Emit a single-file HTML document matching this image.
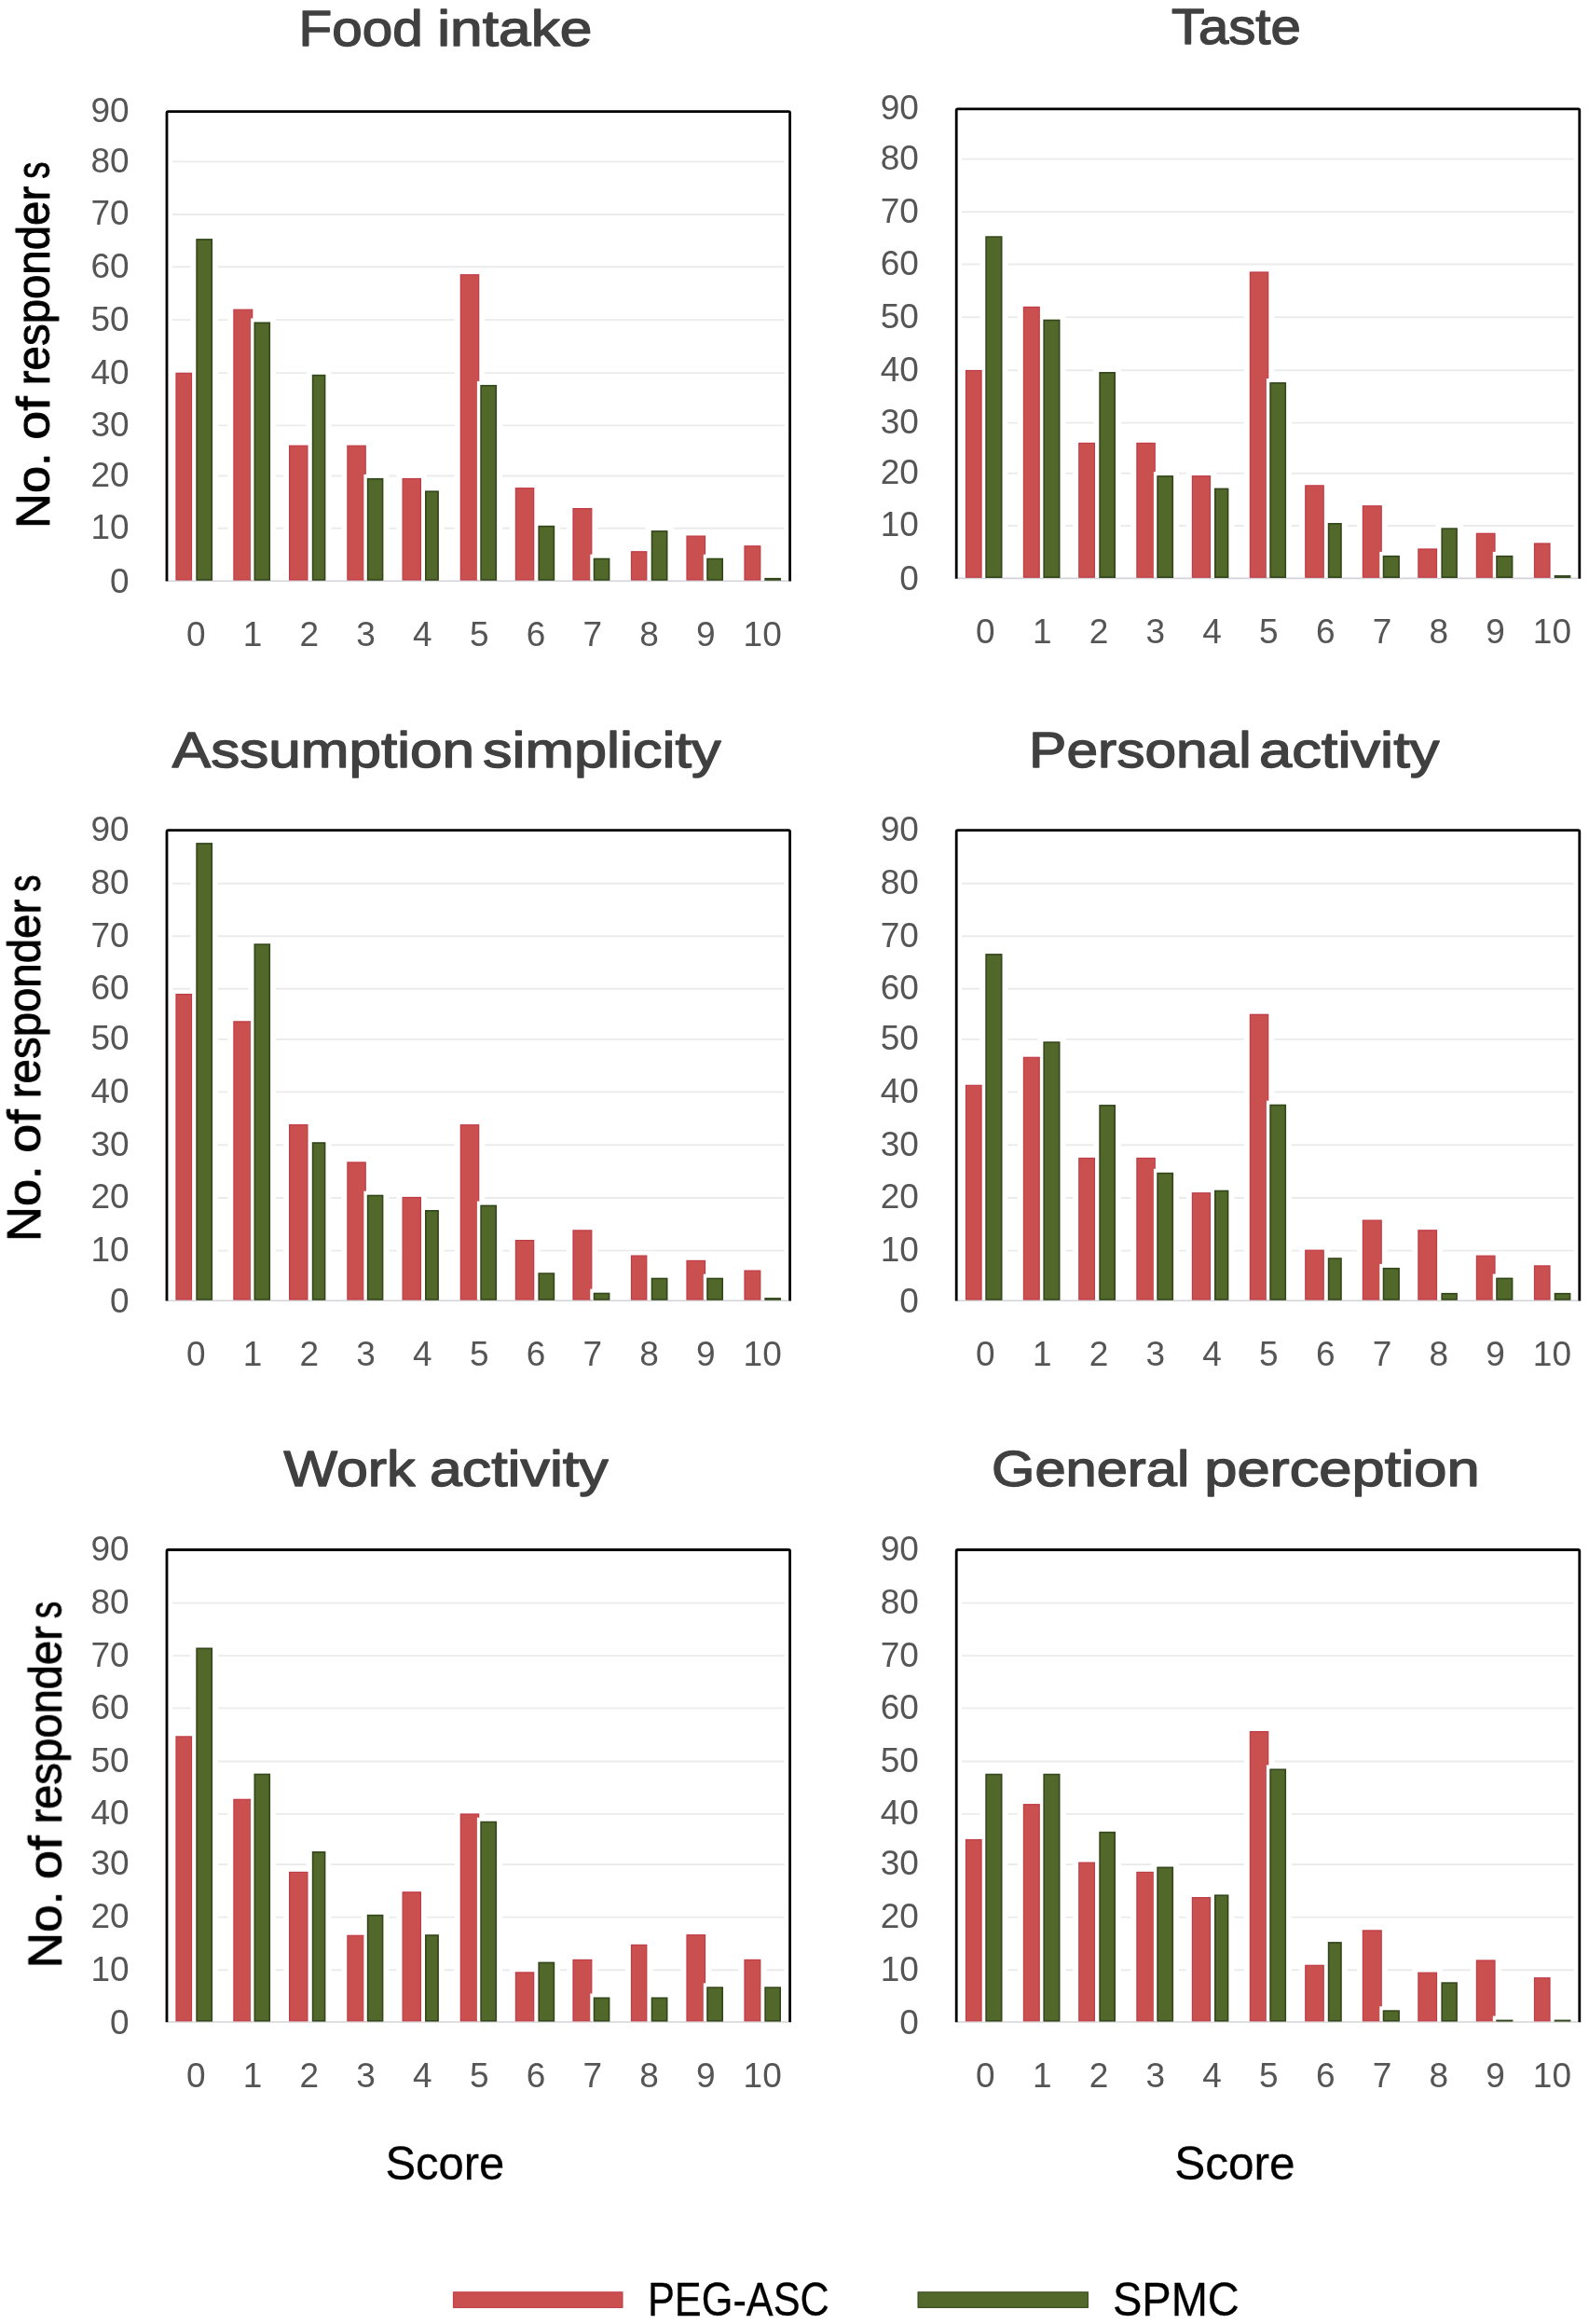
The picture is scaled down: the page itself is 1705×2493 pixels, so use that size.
<!DOCTYPE html>
<html lang="en"><head><meta charset="utf-8"><title>Score distributions</title>
<style>
html,body{margin:0;padding:0;background:#fff}
svg{display:block}
text{font-family:"Liberation Sans",sans-serif}
.tk{font-size:37px;fill:#555555}
.tt{font-size:54px;fill:#404040;stroke:#404040;stroke-width:1.4px;stroke-linejoin:round}
.yl{font-size:50px;fill:#000;stroke:#000;stroke-width:0.9px;stroke-linejoin:round}
.sc{font-size:50px;fill:#000;stroke:#000;stroke-width:0.3px}
</style></head><body>
<svg width="1705" height="2493" viewBox="0 0 1705 2493">
<defs><filter id="soft" filterUnits="userSpaceOnUse" x="0" y="0" width="1705" height="2493"><feGaussianBlur stdDeviation="0.6"/></filter></defs>
<rect width="1705" height="2493" fill="#fff"/>
<g filter="url(#soft)">
<g>
<line x1="185" x2="841.5" y1="173.4" y2="173.4" stroke="#ebebeb" stroke-width="1.9"/>
<line x1="185" x2="841.5" y1="230" y2="230" stroke="#ebebeb" stroke-width="1.9"/>
<line x1="185" x2="841.5" y1="286.3" y2="286.3" stroke="#ebebeb" stroke-width="1.9"/>
<line x1="185" x2="841.5" y1="343.1" y2="343.1" stroke="#ebebeb" stroke-width="1.9"/>
<line x1="185" x2="841.5" y1="400.1" y2="400.1" stroke="#ebebeb" stroke-width="1.9"/>
<line x1="185" x2="841.5" y1="456.4" y2="456.4" stroke="#ebebeb" stroke-width="1.9"/>
<line x1="185" x2="841.5" y1="510.5" y2="510.5" stroke="#ebebeb" stroke-width="1.9"/>
<line x1="185" x2="841.5" y1="566.8" y2="566.8" stroke="#ebebeb" stroke-width="1.9"/>
<line x1="180" x2="846" y1="623.2" y2="623.2" stroke="#d4d4d8" stroke-width="1.6"/>
<rect x="182.4" y="395.7" width="29.7" height="225.3" fill="#fff"/>
<rect x="204.3" y="252.1" width="29.8" height="368.9" fill="#fff"/>
<rect x="244.3" y="327.6" width="33" height="293.4" fill="#fff"/>
<rect x="266.5" y="341.5" width="29.6" height="279.5" fill="#fff"/>
<rect x="304" y="473.6" width="32.5" height="147.4" fill="#fff"/>
<rect x="328.8" y="397.8" width="26.6" height="223.2" fill="#fff"/>
<rect x="366.3" y="473.6" width="32.5" height="147.4" fill="#fff"/>
<rect x="387.8" y="508.9" width="29.6" height="112.1" fill="#fff"/>
<rect x="425.5" y="508.9" width="32.5" height="112.1" fill="#fff"/>
<rect x="450" y="522.4" width="26.9" height="98.6" fill="#fff"/>
<rect x="487.7" y="290.2" width="32.6" height="330.8" fill="#fff"/>
<rect x="509.3" y="408.9" width="29.8" height="212.1" fill="#fff"/>
<rect x="546.8" y="519.1" width="32.5" height="101.9" fill="#fff"/>
<rect x="571.4" y="559.8" width="29.8" height="61.2" fill="#fff"/>
<rect x="608.4" y="541" width="33" height="80" fill="#fff"/>
<rect x="630.7" y="594.7" width="29.7" height="26.3" fill="#fff"/>
<rect x="670.9" y="587.2" width="29.5" height="33.8" fill="#fff"/>
<rect x="692.7" y="565.1" width="29.8" height="55.9" fill="#fff"/>
<rect x="730.4" y="570.5" width="32.7" height="50.5" fill="#fff"/>
<rect x="752.2" y="594.7" width="29.8" height="26.3" fill="#fff"/>
<rect x="792.4" y="581.2" width="30" height="39.8" fill="#fff"/>
<rect x="189" y="400.3" width="16.5" height="221.7" fill="#ca5050" stroke="#bf3a44" stroke-width="1.2"/>
<rect x="206.9" y="252.1" width="3.6" height="370.4" fill="#fff"/>
<rect x="211.1" y="256.9" width="16.2" height="365.1" fill="#51682a" stroke="#33471a" stroke-width="1.6"/>
<rect x="250.9" y="332.2" width="19.8" height="289.8" fill="#ca5050" stroke="#bf3a44" stroke-width="1.2"/>
<rect x="269.1" y="341.5" width="3.6" height="281" fill="#fff"/>
<rect x="273.3" y="346.3" width="16" height="275.7" fill="#51682a" stroke="#33471a" stroke-width="1.6"/>
<rect x="310.6" y="478.2" width="19.3" height="143.8" fill="#ca5050" stroke="#bf3a44" stroke-width="1.2"/>
<rect x="331.4" y="397.8" width="3.6" height="224.7" fill="#fff"/>
<rect x="335.6" y="402.6" width="13" height="219.4" fill="#51682a" stroke="#33471a" stroke-width="1.6"/>
<rect x="372.9" y="478.2" width="19.3" height="143.8" fill="#ca5050" stroke="#bf3a44" stroke-width="1.2"/>
<rect x="390.4" y="508.9" width="3.6" height="113.6" fill="#fff"/>
<rect x="394.6" y="513.7" width="16" height="108.3" fill="#51682a" stroke="#33471a" stroke-width="1.6"/>
<rect x="432.1" y="513.5" width="19.3" height="108.5" fill="#ca5050" stroke="#bf3a44" stroke-width="1.2"/>
<rect x="452.6" y="522.4" width="3.6" height="100.1" fill="#fff"/>
<rect x="456.8" y="527.2" width="13.3" height="94.8" fill="#51682a" stroke="#33471a" stroke-width="1.6"/>
<rect x="494.3" y="294.8" width="19.4" height="327.2" fill="#ca5050" stroke="#bf3a44" stroke-width="1.2"/>
<rect x="511.9" y="408.9" width="3.6" height="213.6" fill="#fff"/>
<rect x="516.1" y="413.7" width="16.2" height="208.3" fill="#51682a" stroke="#33471a" stroke-width="1.6"/>
<rect x="553.4" y="523.7" width="19.3" height="98.3" fill="#ca5050" stroke="#bf3a44" stroke-width="1.2"/>
<rect x="574" y="559.8" width="3.6" height="62.7" fill="#fff"/>
<rect x="578.2" y="564.6" width="16.2" height="57.4" fill="#51682a" stroke="#33471a" stroke-width="1.6"/>
<rect x="615" y="545.6" width="19.8" height="76.4" fill="#ca5050" stroke="#bf3a44" stroke-width="1.2"/>
<rect x="633.3" y="594.7" width="3.6" height="27.8" fill="#fff"/>
<rect x="637.5" y="599.5" width="16.1" height="22.5" fill="#51682a" stroke="#33471a" stroke-width="1.6"/>
<rect x="677.5" y="591.8" width="16.3" height="30.2" fill="#ca5050" stroke="#bf3a44" stroke-width="1.2"/>
<rect x="695.3" y="565.1" width="3.6" height="57.4" fill="#fff"/>
<rect x="699.5" y="569.9" width="16.2" height="52.1" fill="#51682a" stroke="#33471a" stroke-width="1.6"/>
<rect x="737" y="575.1" width="19.5" height="46.9" fill="#ca5050" stroke="#bf3a44" stroke-width="1.2"/>
<rect x="754.8" y="594.7" width="3.6" height="27.8" fill="#fff"/>
<rect x="759" y="599.5" width="16.2" height="22.5" fill="#51682a" stroke="#33471a" stroke-width="1.6"/>
<rect x="799" y="585.8" width="16.8" height="36.2" fill="#ca5050" stroke="#bf3a44" stroke-width="1.2"/>
<rect x="816.9" y="615.9" width="3.6" height="6.6" fill="#fff"/>
<rect x="821.1" y="620.7" width="16.1" height="1.3" fill="#51682a" stroke="#33471a" stroke-width="1.6"/>
<path d="M179 623.5V121.1Q179 119.6 180.5 119.6H846.1Q847.6 119.6 847.6 121.1V623.5" fill="none" stroke="#000" stroke-width="2.8"/>
<text x="138.6" y="131" text-anchor="end" class="tk">90</text>
<text x="138.6" y="184.8" text-anchor="end" class="tk">80</text>
<text x="138.6" y="241.4" text-anchor="end" class="tk">70</text>
<text x="138.6" y="297.7" text-anchor="end" class="tk">60</text>
<text x="138.6" y="354.5" text-anchor="end" class="tk">50</text>
<text x="138.6" y="411.5" text-anchor="end" class="tk">40</text>
<text x="138.6" y="467.8" text-anchor="end" class="tk">30</text>
<text x="138.6" y="521.9" text-anchor="end" class="tk">20</text>
<text x="138.6" y="578.2" text-anchor="end" class="tk">10</text>
<text x="138.6" y="636" text-anchor="end" class="tk">0</text>
<text x="210.2" y="692.8" text-anchor="middle" class="tk">0</text>
<text x="271" y="692.8" text-anchor="middle" class="tk">1</text>
<text x="331.8" y="692.8" text-anchor="middle" class="tk">2</text>
<text x="392.6" y="692.8" text-anchor="middle" class="tk">3</text>
<text x="453.4" y="692.8" text-anchor="middle" class="tk">4</text>
<text x="514.2" y="692.8" text-anchor="middle" class="tk">5</text>
<text x="575" y="692.8" text-anchor="middle" class="tk">6</text>
<text x="635.8" y="692.8" text-anchor="middle" class="tk">7</text>
<text x="696.6" y="692.8" text-anchor="middle" class="tk">8</text>
<text x="757.4" y="692.8" text-anchor="middle" class="tk">9</text>
<text x="818.2" y="692.8" text-anchor="middle" class="tk">10</text>
</g>
<g>
<line x1="1032.2" x2="1688.7" y1="170.6" y2="170.6" stroke="#ebebeb" stroke-width="1.9"/>
<line x1="1032.2" x2="1688.7" y1="227.2" y2="227.2" stroke="#ebebeb" stroke-width="1.9"/>
<line x1="1032.2" x2="1688.7" y1="283.5" y2="283.5" stroke="#ebebeb" stroke-width="1.9"/>
<line x1="1032.2" x2="1688.7" y1="340.3" y2="340.3" stroke="#ebebeb" stroke-width="1.9"/>
<line x1="1032.2" x2="1688.7" y1="397.3" y2="397.3" stroke="#ebebeb" stroke-width="1.9"/>
<line x1="1032.2" x2="1688.7" y1="453.6" y2="453.6" stroke="#ebebeb" stroke-width="1.9"/>
<line x1="1032.2" x2="1688.7" y1="507.7" y2="507.7" stroke="#ebebeb" stroke-width="1.9"/>
<line x1="1032.2" x2="1688.7" y1="564" y2="564" stroke="#ebebeb" stroke-width="1.9"/>
<line x1="1027.2" x2="1693.2" y1="620.4" y2="620.4" stroke="#d4d4d8" stroke-width="1.6"/>
<rect x="1029.9" y="392.9" width="29.8" height="225.3" fill="#fff"/>
<rect x="1051.3" y="249.3" width="30.2" height="368.9" fill="#fff"/>
<rect x="1091.8" y="324.8" width="30" height="293.4" fill="#fff"/>
<rect x="1113.4" y="338.7" width="30.1" height="279.5" fill="#fff"/>
<rect x="1151.2" y="470.8" width="29.8" height="147.4" fill="#fff"/>
<rect x="1173.3" y="395" width="29.7" height="223.2" fill="#fff"/>
<rect x="1213.3" y="470.8" width="32.5" height="147.4" fill="#fff"/>
<rect x="1235.3" y="506.1" width="29.8" height="112.1" fill="#fff"/>
<rect x="1272.8" y="506.1" width="32.3" height="112.1" fill="#fff"/>
<rect x="1297" y="519.6" width="27.4" height="98.6" fill="#fff"/>
<rect x="1334.8" y="287.4" width="32.5" height="330.8" fill="#fff"/>
<rect x="1356.3" y="406.1" width="29.8" height="212.1" fill="#fff"/>
<rect x="1394.2" y="516.3" width="32.6" height="101.9" fill="#fff"/>
<rect x="1418.8" y="557" width="27" height="61.2" fill="#fff"/>
<rect x="1455.8" y="538.2" width="33" height="80" fill="#fff"/>
<rect x="1477.7" y="591.9" width="30.2" height="26.3" fill="#fff"/>
<rect x="1515.3" y="584.4" width="32.8" height="33.8" fill="#fff"/>
<rect x="1540.4" y="562.3" width="29.5" height="55.9" fill="#fff"/>
<rect x="1577.8" y="567.7" width="32.8" height="50.5" fill="#fff"/>
<rect x="1599.2" y="591.9" width="30.2" height="26.3" fill="#fff"/>
<rect x="1639.9" y="578.4" width="29.7" height="39.8" fill="#fff"/>
<rect x="1036.5" y="397.5" width="16.6" height="221.7" fill="#ca5050" stroke="#bf3a44" stroke-width="1.2"/>
<rect x="1053.9" y="249.3" width="3.6" height="370.4" fill="#fff"/>
<rect x="1058.1" y="254.1" width="16.6" height="365.1" fill="#51682a" stroke="#33471a" stroke-width="1.6"/>
<rect x="1098.4" y="329.4" width="16.8" height="289.8" fill="#ca5050" stroke="#bf3a44" stroke-width="1.2"/>
<rect x="1116" y="338.7" width="3.6" height="281" fill="#fff"/>
<rect x="1120.2" y="343.5" width="16.5" height="275.7" fill="#51682a" stroke="#33471a" stroke-width="1.6"/>
<rect x="1157.8" y="475.4" width="16.6" height="143.8" fill="#ca5050" stroke="#bf3a44" stroke-width="1.2"/>
<rect x="1175.9" y="395" width="3.6" height="224.7" fill="#fff"/>
<rect x="1180.1" y="399.8" width="16.1" height="219.4" fill="#51682a" stroke="#33471a" stroke-width="1.6"/>
<rect x="1219.9" y="475.4" width="19.3" height="143.8" fill="#ca5050" stroke="#bf3a44" stroke-width="1.2"/>
<rect x="1237.9" y="506.1" width="3.6" height="113.6" fill="#fff"/>
<rect x="1242.1" y="510.9" width="16.2" height="108.3" fill="#51682a" stroke="#33471a" stroke-width="1.6"/>
<rect x="1279.4" y="510.7" width="19.1" height="108.5" fill="#ca5050" stroke="#bf3a44" stroke-width="1.2"/>
<rect x="1299.6" y="519.6" width="3.6" height="100.1" fill="#fff"/>
<rect x="1303.8" y="524.4" width="13.8" height="94.8" fill="#51682a" stroke="#33471a" stroke-width="1.6"/>
<rect x="1341.4" y="292" width="19.3" height="327.2" fill="#ca5050" stroke="#bf3a44" stroke-width="1.2"/>
<rect x="1358.9" y="406.1" width="3.6" height="213.6" fill="#fff"/>
<rect x="1363.1" y="410.9" width="16.2" height="208.3" fill="#51682a" stroke="#33471a" stroke-width="1.6"/>
<rect x="1400.8" y="520.9" width="19.4" height="98.3" fill="#ca5050" stroke="#bf3a44" stroke-width="1.2"/>
<rect x="1421.4" y="557" width="3.6" height="62.7" fill="#fff"/>
<rect x="1425.6" y="561.8" width="13.4" height="57.4" fill="#51682a" stroke="#33471a" stroke-width="1.6"/>
<rect x="1462.4" y="542.8" width="19.8" height="76.4" fill="#ca5050" stroke="#bf3a44" stroke-width="1.2"/>
<rect x="1480.3" y="591.9" width="3.6" height="27.8" fill="#fff"/>
<rect x="1484.5" y="596.7" width="16.6" height="22.5" fill="#51682a" stroke="#33471a" stroke-width="1.6"/>
<rect x="1521.9" y="589" width="19.6" height="30.2" fill="#ca5050" stroke="#bf3a44" stroke-width="1.2"/>
<rect x="1543" y="562.3" width="3.6" height="57.4" fill="#fff"/>
<rect x="1547.2" y="567.1" width="15.9" height="52.1" fill="#51682a" stroke="#33471a" stroke-width="1.6"/>
<rect x="1584.4" y="572.3" width="19.6" height="46.9" fill="#ca5050" stroke="#bf3a44" stroke-width="1.2"/>
<rect x="1601.8" y="591.9" width="3.6" height="27.8" fill="#fff"/>
<rect x="1606" y="596.7" width="16.6" height="22.5" fill="#51682a" stroke="#33471a" stroke-width="1.6"/>
<rect x="1646.5" y="583" width="16.5" height="36.2" fill="#ca5050" stroke="#bf3a44" stroke-width="1.2"/>
<rect x="1664.3" y="613.1" width="3.6" height="6.6" fill="#fff"/>
<rect x="1668.5" y="617.9" width="16.1" height="1.3" fill="#51682a" stroke="#33471a" stroke-width="1.6"/>
<path d="M1026.2 620.7V118.3Q1026.2 116.8 1027.7 116.8H1693.3Q1694.8 116.8 1694.8 118.3V620.7" fill="none" stroke="#000" stroke-width="2.8"/>
<text x="985.8" y="128.2" text-anchor="end" class="tk">90</text>
<text x="985.8" y="182" text-anchor="end" class="tk">80</text>
<text x="985.8" y="238.6" text-anchor="end" class="tk">70</text>
<text x="985.8" y="294.9" text-anchor="end" class="tk">60</text>
<text x="985.8" y="351.7" text-anchor="end" class="tk">50</text>
<text x="985.8" y="408.7" text-anchor="end" class="tk">40</text>
<text x="985.8" y="465" text-anchor="end" class="tk">30</text>
<text x="985.8" y="519.1" text-anchor="end" class="tk">20</text>
<text x="985.8" y="575.4" text-anchor="end" class="tk">10</text>
<text x="985.8" y="633.2" text-anchor="end" class="tk">0</text>
<text x="1057.4" y="690" text-anchor="middle" class="tk">0</text>
<text x="1118.2" y="690" text-anchor="middle" class="tk">1</text>
<text x="1179" y="690" text-anchor="middle" class="tk">2</text>
<text x="1239.8" y="690" text-anchor="middle" class="tk">3</text>
<text x="1300.6" y="690" text-anchor="middle" class="tk">4</text>
<text x="1361.4" y="690" text-anchor="middle" class="tk">5</text>
<text x="1422.2" y="690" text-anchor="middle" class="tk">6</text>
<text x="1483" y="690" text-anchor="middle" class="tk">7</text>
<text x="1543.8" y="690" text-anchor="middle" class="tk">8</text>
<text x="1604.6" y="690" text-anchor="middle" class="tk">9</text>
<text x="1665.4" y="690" text-anchor="middle" class="tk">10</text>
</g>
<g>
<line x1="185" x2="841.5" y1="947.7" y2="947.7" stroke="#ebebeb" stroke-width="1.9"/>
<line x1="185" x2="841.5" y1="1004.3" y2="1004.3" stroke="#ebebeb" stroke-width="1.9"/>
<line x1="185" x2="841.5" y1="1060.8" y2="1060.8" stroke="#ebebeb" stroke-width="1.9"/>
<line x1="185" x2="841.5" y1="1114.9" y2="1114.9" stroke="#ebebeb" stroke-width="1.9"/>
<line x1="185" x2="841.5" y1="1171.4" y2="1171.4" stroke="#ebebeb" stroke-width="1.9"/>
<line x1="185" x2="841.5" y1="1228.2" y2="1228.2" stroke="#ebebeb" stroke-width="1.9"/>
<line x1="185" x2="841.5" y1="1285" y2="1285" stroke="#ebebeb" stroke-width="1.9"/>
<line x1="185" x2="841.5" y1="1341.6" y2="1341.6" stroke="#ebebeb" stroke-width="1.9"/>
<line x1="180" x2="846" y1="1395.2" y2="1395.2" stroke="#d4d4d8" stroke-width="1.6"/>
<rect x="182.4" y="1062" width="29.7" height="331" fill="#fff"/>
<rect x="204.3" y="900.1" width="29.8" height="492.9" fill="#fff"/>
<rect x="244.3" y="1091.3" width="33" height="301.7" fill="#fff"/>
<rect x="266.5" y="1008.3" width="29.6" height="384.7" fill="#fff"/>
<rect x="304" y="1202.1" width="32.5" height="190.9" fill="#fff"/>
<rect x="328.8" y="1221.2" width="26.6" height="171.8" fill="#fff"/>
<rect x="366.3" y="1242.3" width="32.5" height="150.7" fill="#fff"/>
<rect x="387.8" y="1277.7" width="29.6" height="115.3" fill="#fff"/>
<rect x="425.5" y="1279.9" width="32.5" height="113.1" fill="#fff"/>
<rect x="450" y="1294" width="26.9" height="99" fill="#fff"/>
<rect x="487.7" y="1202.2" width="32.6" height="190.8" fill="#fff"/>
<rect x="509.3" y="1288.6" width="29.8" height="104.4" fill="#fff"/>
<rect x="546.8" y="1326" width="32.5" height="67" fill="#fff"/>
<rect x="571.4" y="1361.3" width="29.8" height="31.7" fill="#fff"/>
<rect x="608.4" y="1315.3" width="33" height="77.7" fill="#fff"/>
<rect x="630.7" y="1382.7" width="29.7" height="10.3" fill="#fff"/>
<rect x="670.9" y="1342.5" width="29.5" height="50.5" fill="#fff"/>
<rect x="692.7" y="1366.7" width="29.8" height="26.3" fill="#fff"/>
<rect x="730.4" y="1347.8" width="32.7" height="45.2" fill="#fff"/>
<rect x="752.2" y="1366.7" width="29.8" height="26.3" fill="#fff"/>
<rect x="792.4" y="1358.5" width="30" height="34.5" fill="#fff"/>
<rect x="189" y="1066.6" width="16.5" height="327.4" fill="#ca5050" stroke="#bf3a44" stroke-width="1.2"/>
<rect x="206.9" y="900.1" width="3.6" height="494.4" fill="#fff"/>
<rect x="211.1" y="904.9" width="16.2" height="489.1" fill="#51682a" stroke="#33471a" stroke-width="1.6"/>
<rect x="250.9" y="1095.9" width="19.8" height="298.1" fill="#ca5050" stroke="#bf3a44" stroke-width="1.2"/>
<rect x="269.1" y="1008.3" width="3.6" height="386.2" fill="#fff"/>
<rect x="273.3" y="1013.1" width="16" height="380.9" fill="#51682a" stroke="#33471a" stroke-width="1.6"/>
<rect x="310.6" y="1206.7" width="19.3" height="187.3" fill="#ca5050" stroke="#bf3a44" stroke-width="1.2"/>
<rect x="331.4" y="1221.2" width="3.6" height="173.3" fill="#fff"/>
<rect x="335.6" y="1226" width="13" height="168" fill="#51682a" stroke="#33471a" stroke-width="1.6"/>
<rect x="372.9" y="1246.9" width="19.3" height="147.1" fill="#ca5050" stroke="#bf3a44" stroke-width="1.2"/>
<rect x="390.4" y="1277.7" width="3.6" height="116.8" fill="#fff"/>
<rect x="394.6" y="1282.5" width="16" height="111.5" fill="#51682a" stroke="#33471a" stroke-width="1.6"/>
<rect x="432.1" y="1284.5" width="19.3" height="109.5" fill="#ca5050" stroke="#bf3a44" stroke-width="1.2"/>
<rect x="452.6" y="1294" width="3.6" height="100.5" fill="#fff"/>
<rect x="456.8" y="1298.8" width="13.3" height="95.2" fill="#51682a" stroke="#33471a" stroke-width="1.6"/>
<rect x="494.3" y="1206.8" width="19.4" height="187.2" fill="#ca5050" stroke="#bf3a44" stroke-width="1.2"/>
<rect x="511.9" y="1288.6" width="3.6" height="105.9" fill="#fff"/>
<rect x="516.1" y="1293.4" width="16.2" height="100.6" fill="#51682a" stroke="#33471a" stroke-width="1.6"/>
<rect x="553.4" y="1330.6" width="19.3" height="63.4" fill="#ca5050" stroke="#bf3a44" stroke-width="1.2"/>
<rect x="574" y="1361.3" width="3.6" height="33.2" fill="#fff"/>
<rect x="578.2" y="1366.1" width="16.2" height="27.9" fill="#51682a" stroke="#33471a" stroke-width="1.6"/>
<rect x="615" y="1319.9" width="19.8" height="74.1" fill="#ca5050" stroke="#bf3a44" stroke-width="1.2"/>
<rect x="633.3" y="1382.7" width="3.6" height="11.8" fill="#fff"/>
<rect x="637.5" y="1387.5" width="16.1" height="6.5" fill="#51682a" stroke="#33471a" stroke-width="1.6"/>
<rect x="677.5" y="1347.1" width="16.3" height="46.9" fill="#ca5050" stroke="#bf3a44" stroke-width="1.2"/>
<rect x="695.3" y="1366.7" width="3.6" height="27.8" fill="#fff"/>
<rect x="699.5" y="1371.5" width="16.2" height="22.5" fill="#51682a" stroke="#33471a" stroke-width="1.6"/>
<rect x="737" y="1352.4" width="19.5" height="41.6" fill="#ca5050" stroke="#bf3a44" stroke-width="1.2"/>
<rect x="754.8" y="1366.7" width="3.6" height="27.8" fill="#fff"/>
<rect x="759" y="1371.5" width="16.2" height="22.5" fill="#51682a" stroke="#33471a" stroke-width="1.6"/>
<rect x="799" y="1363.1" width="16.8" height="30.9" fill="#ca5050" stroke="#bf3a44" stroke-width="1.2"/>
<rect x="816.9" y="1388.1" width="3.6" height="6.4" fill="#fff"/>
<rect x="821.1" y="1392.9" width="16.1" height="1.1" fill="#51682a" stroke="#33471a" stroke-width="1.6"/>
<path d="M179 1395.5V892.2Q179 890.7 180.5 890.7H846.1Q847.6 890.7 847.6 892.2V1395.5" fill="none" stroke="#000" stroke-width="2.8"/>
<text x="138.6" y="902.1" text-anchor="end" class="tk">90</text>
<text x="138.6" y="959.1" text-anchor="end" class="tk">80</text>
<text x="138.6" y="1015.7" text-anchor="end" class="tk">70</text>
<text x="138.6" y="1072.2" text-anchor="end" class="tk">60</text>
<text x="138.6" y="1126.3" text-anchor="end" class="tk">50</text>
<text x="138.6" y="1182.8" text-anchor="end" class="tk">40</text>
<text x="138.6" y="1239.6" text-anchor="end" class="tk">30</text>
<text x="138.6" y="1296.4" text-anchor="end" class="tk">20</text>
<text x="138.6" y="1353" text-anchor="end" class="tk">10</text>
<text x="138.6" y="1408" text-anchor="end" class="tk">0</text>
<text x="210.2" y="1464.8" text-anchor="middle" class="tk">0</text>
<text x="271" y="1464.8" text-anchor="middle" class="tk">1</text>
<text x="331.8" y="1464.8" text-anchor="middle" class="tk">2</text>
<text x="392.6" y="1464.8" text-anchor="middle" class="tk">3</text>
<text x="453.4" y="1464.8" text-anchor="middle" class="tk">4</text>
<text x="514.2" y="1464.8" text-anchor="middle" class="tk">5</text>
<text x="575" y="1464.8" text-anchor="middle" class="tk">6</text>
<text x="635.8" y="1464.8" text-anchor="middle" class="tk">7</text>
<text x="696.6" y="1464.8" text-anchor="middle" class="tk">8</text>
<text x="757.4" y="1464.8" text-anchor="middle" class="tk">9</text>
<text x="818.2" y="1464.8" text-anchor="middle" class="tk">10</text>
</g>
<g>
<line x1="1032.2" x2="1688.7" y1="947.7" y2="947.7" stroke="#ebebeb" stroke-width="1.9"/>
<line x1="1032.2" x2="1688.7" y1="1004.3" y2="1004.3" stroke="#ebebeb" stroke-width="1.9"/>
<line x1="1032.2" x2="1688.7" y1="1060.8" y2="1060.8" stroke="#ebebeb" stroke-width="1.9"/>
<line x1="1032.2" x2="1688.7" y1="1114.9" y2="1114.9" stroke="#ebebeb" stroke-width="1.9"/>
<line x1="1032.2" x2="1688.7" y1="1171.4" y2="1171.4" stroke="#ebebeb" stroke-width="1.9"/>
<line x1="1032.2" x2="1688.7" y1="1228.2" y2="1228.2" stroke="#ebebeb" stroke-width="1.9"/>
<line x1="1032.2" x2="1688.7" y1="1285" y2="1285" stroke="#ebebeb" stroke-width="1.9"/>
<line x1="1032.2" x2="1688.7" y1="1341.6" y2="1341.6" stroke="#ebebeb" stroke-width="1.9"/>
<line x1="1027.2" x2="1693.2" y1="1395.2" y2="1395.2" stroke="#d4d4d8" stroke-width="1.6"/>
<rect x="1029.9" y="1159.7" width="29.8" height="233.3" fill="#fff"/>
<rect x="1051.3" y="1019.1" width="30.2" height="373.9" fill="#fff"/>
<rect x="1091.8" y="1129.7" width="30" height="263.3" fill="#fff"/>
<rect x="1113.4" y="1113.3" width="30.1" height="279.7" fill="#fff"/>
<rect x="1151.2" y="1237.8" width="29.8" height="155.2" fill="#fff"/>
<rect x="1173.3" y="1181.1" width="29.7" height="211.9" fill="#fff"/>
<rect x="1213.3" y="1237.8" width="32.5" height="155.2" fill="#fff"/>
<rect x="1235.3" y="1253.8" width="29.8" height="139.2" fill="#fff"/>
<rect x="1272.8" y="1275.2" width="32.3" height="117.8" fill="#fff"/>
<rect x="1297" y="1272.7" width="27.4" height="120.3" fill="#fff"/>
<rect x="1334.8" y="1083.7" width="32.5" height="309.3" fill="#fff"/>
<rect x="1356.3" y="1180.7" width="29.8" height="212.3" fill="#fff"/>
<rect x="1394.2" y="1336.6" width="32.6" height="56.4" fill="#fff"/>
<rect x="1418.8" y="1345.2" width="27" height="47.8" fill="#fff"/>
<rect x="1455.8" y="1304.5" width="33" height="88.5" fill="#fff"/>
<rect x="1477.7" y="1355.9" width="30.2" height="37.1" fill="#fff"/>
<rect x="1515.3" y="1315.2" width="32.8" height="77.8" fill="#fff"/>
<rect x="1540.4" y="1382.9" width="29.5" height="10.1" fill="#fff"/>
<rect x="1577.8" y="1342.6" width="32.8" height="50.4" fill="#fff"/>
<rect x="1599.2" y="1366.6" width="30.2" height="26.4" fill="#fff"/>
<rect x="1639.9" y="1353.3" width="29.7" height="39.7" fill="#fff"/>
<rect x="1661.7" y="1382.9" width="29.7" height="10.1" fill="#fff"/>
<rect x="1036.5" y="1164.3" width="16.6" height="229.7" fill="#ca5050" stroke="#bf3a44" stroke-width="1.2"/>
<rect x="1053.9" y="1019.1" width="3.6" height="375.4" fill="#fff"/>
<rect x="1058.1" y="1023.9" width="16.6" height="370.1" fill="#51682a" stroke="#33471a" stroke-width="1.6"/>
<rect x="1098.4" y="1134.3" width="16.8" height="259.7" fill="#ca5050" stroke="#bf3a44" stroke-width="1.2"/>
<rect x="1116" y="1113.3" width="3.6" height="281.2" fill="#fff"/>
<rect x="1120.2" y="1118.1" width="16.5" height="275.9" fill="#51682a" stroke="#33471a" stroke-width="1.6"/>
<rect x="1157.8" y="1242.4" width="16.6" height="151.6" fill="#ca5050" stroke="#bf3a44" stroke-width="1.2"/>
<rect x="1175.9" y="1181.1" width="3.6" height="213.4" fill="#fff"/>
<rect x="1180.1" y="1185.9" width="16.1" height="208.1" fill="#51682a" stroke="#33471a" stroke-width="1.6"/>
<rect x="1219.9" y="1242.4" width="19.3" height="151.6" fill="#ca5050" stroke="#bf3a44" stroke-width="1.2"/>
<rect x="1237.9" y="1253.8" width="3.6" height="140.7" fill="#fff"/>
<rect x="1242.1" y="1258.6" width="16.2" height="135.4" fill="#51682a" stroke="#33471a" stroke-width="1.6"/>
<rect x="1279.4" y="1279.8" width="19.1" height="114.2" fill="#ca5050" stroke="#bf3a44" stroke-width="1.2"/>
<rect x="1299.6" y="1272.7" width="3.6" height="121.8" fill="#fff"/>
<rect x="1303.8" y="1277.5" width="13.8" height="116.5" fill="#51682a" stroke="#33471a" stroke-width="1.6"/>
<rect x="1341.4" y="1088.3" width="19.3" height="305.7" fill="#ca5050" stroke="#bf3a44" stroke-width="1.2"/>
<rect x="1358.9" y="1180.7" width="3.6" height="213.8" fill="#fff"/>
<rect x="1363.1" y="1185.5" width="16.2" height="208.5" fill="#51682a" stroke="#33471a" stroke-width="1.6"/>
<rect x="1400.8" y="1341.2" width="19.4" height="52.8" fill="#ca5050" stroke="#bf3a44" stroke-width="1.2"/>
<rect x="1421.4" y="1345.2" width="3.6" height="49.3" fill="#fff"/>
<rect x="1425.6" y="1350" width="13.4" height="44" fill="#51682a" stroke="#33471a" stroke-width="1.6"/>
<rect x="1462.4" y="1309.1" width="19.8" height="84.9" fill="#ca5050" stroke="#bf3a44" stroke-width="1.2"/>
<rect x="1480.3" y="1355.9" width="3.6" height="38.6" fill="#fff"/>
<rect x="1484.5" y="1360.7" width="16.6" height="33.3" fill="#51682a" stroke="#33471a" stroke-width="1.6"/>
<rect x="1521.9" y="1319.8" width="19.6" height="74.2" fill="#ca5050" stroke="#bf3a44" stroke-width="1.2"/>
<rect x="1543" y="1382.9" width="3.6" height="11.6" fill="#fff"/>
<rect x="1547.2" y="1387.7" width="15.9" height="6.3" fill="#51682a" stroke="#33471a" stroke-width="1.6"/>
<rect x="1584.4" y="1347.2" width="19.6" height="46.8" fill="#ca5050" stroke="#bf3a44" stroke-width="1.2"/>
<rect x="1601.8" y="1366.6" width="3.6" height="27.9" fill="#fff"/>
<rect x="1606" y="1371.4" width="16.6" height="22.6" fill="#51682a" stroke="#33471a" stroke-width="1.6"/>
<rect x="1646.5" y="1357.9" width="16.5" height="36.1" fill="#ca5050" stroke="#bf3a44" stroke-width="1.2"/>
<rect x="1664.3" y="1382.9" width="3.6" height="11.6" fill="#fff"/>
<rect x="1668.5" y="1387.7" width="16.1" height="6.3" fill="#51682a" stroke="#33471a" stroke-width="1.6"/>
<path d="M1026.2 1395.5V892.2Q1026.2 890.7 1027.7 890.7H1693.3Q1694.8 890.7 1694.8 892.2V1395.5" fill="none" stroke="#000" stroke-width="2.8"/>
<text x="985.8" y="902.1" text-anchor="end" class="tk">90</text>
<text x="985.8" y="959.1" text-anchor="end" class="tk">80</text>
<text x="985.8" y="1015.7" text-anchor="end" class="tk">70</text>
<text x="985.8" y="1072.2" text-anchor="end" class="tk">60</text>
<text x="985.8" y="1126.3" text-anchor="end" class="tk">50</text>
<text x="985.8" y="1182.8" text-anchor="end" class="tk">40</text>
<text x="985.8" y="1239.6" text-anchor="end" class="tk">30</text>
<text x="985.8" y="1296.4" text-anchor="end" class="tk">20</text>
<text x="985.8" y="1353" text-anchor="end" class="tk">10</text>
<text x="985.8" y="1408" text-anchor="end" class="tk">0</text>
<text x="1057.4" y="1464.8" text-anchor="middle" class="tk">0</text>
<text x="1118.2" y="1464.8" text-anchor="middle" class="tk">1</text>
<text x="1179" y="1464.8" text-anchor="middle" class="tk">2</text>
<text x="1239.8" y="1464.8" text-anchor="middle" class="tk">3</text>
<text x="1300.6" y="1464.8" text-anchor="middle" class="tk">4</text>
<text x="1361.4" y="1464.8" text-anchor="middle" class="tk">5</text>
<text x="1422.2" y="1464.8" text-anchor="middle" class="tk">6</text>
<text x="1483" y="1464.8" text-anchor="middle" class="tk">7</text>
<text x="1543.8" y="1464.8" text-anchor="middle" class="tk">8</text>
<text x="1604.6" y="1464.8" text-anchor="middle" class="tk">9</text>
<text x="1665.4" y="1464.8" text-anchor="middle" class="tk">10</text>
</g>
<g>
<line x1="185" x2="841.5" y1="1719.6" y2="1719.6" stroke="#ebebeb" stroke-width="1.9"/>
<line x1="185" x2="841.5" y1="1776.1" y2="1776.1" stroke="#ebebeb" stroke-width="1.9"/>
<line x1="185" x2="841.5" y1="1832.4" y2="1832.4" stroke="#ebebeb" stroke-width="1.9"/>
<line x1="185" x2="841.5" y1="1889.5" y2="1889.5" stroke="#ebebeb" stroke-width="1.9"/>
<line x1="185" x2="841.5" y1="1945.9" y2="1945.9" stroke="#ebebeb" stroke-width="1.9"/>
<line x1="185" x2="841.5" y1="2000" y2="2000" stroke="#ebebeb" stroke-width="1.9"/>
<line x1="185" x2="841.5" y1="2056.6" y2="2056.6" stroke="#ebebeb" stroke-width="1.9"/>
<line x1="185" x2="841.5" y1="2113.2" y2="2113.2" stroke="#ebebeb" stroke-width="1.9"/>
<line x1="180" x2="846" y1="2169" y2="2169" stroke="#d4d4d8" stroke-width="1.6"/>
<rect x="182.4" y="1858.3" width="29.7" height="308.5" fill="#fff"/>
<rect x="204.3" y="1763.5" width="29.8" height="403.3" fill="#fff"/>
<rect x="244.3" y="1925.7" width="33" height="241.1" fill="#fff"/>
<rect x="266.5" y="1898.6" width="29.6" height="268.2" fill="#fff"/>
<rect x="304" y="2003.8" width="32.5" height="163" fill="#fff"/>
<rect x="328.8" y="1982" width="26.6" height="184.8" fill="#fff"/>
<rect x="366.3" y="2071.7" width="32.5" height="95.1" fill="#fff"/>
<rect x="387.8" y="2049.8" width="29.6" height="117" fill="#fff"/>
<rect x="425.5" y="2025.2" width="32.5" height="141.6" fill="#fff"/>
<rect x="450" y="2071.2" width="26.9" height="95.6" fill="#fff"/>
<rect x="487.7" y="1941.4" width="32.6" height="225.4" fill="#fff"/>
<rect x="509.3" y="1949.7" width="29.8" height="217.1" fill="#fff"/>
<rect x="546.8" y="2111.3" width="32.5" height="55.5" fill="#fff"/>
<rect x="571.4" y="2100.6" width="29.8" height="66.2" fill="#fff"/>
<rect x="608.4" y="2097.8" width="33" height="69" fill="#fff"/>
<rect x="630.7" y="2138.5" width="29.7" height="28.3" fill="#fff"/>
<rect x="670.9" y="2081.8" width="29.5" height="85" fill="#fff"/>
<rect x="692.7" y="2138.5" width="29.8" height="28.3" fill="#fff"/>
<rect x="730.4" y="2071.1" width="32.7" height="95.7" fill="#fff"/>
<rect x="752.2" y="2127.3" width="29.8" height="39.5" fill="#fff"/>
<rect x="792.4" y="2097.8" width="30" height="69" fill="#fff"/>
<rect x="814.3" y="2127.3" width="29.7" height="39.5" fill="#fff"/>
<rect x="189" y="1862.9" width="16.5" height="304.9" fill="#ca5050" stroke="#bf3a44" stroke-width="1.2"/>
<rect x="206.9" y="1763.5" width="3.6" height="404.8" fill="#fff"/>
<rect x="211.1" y="1768.3" width="16.2" height="399.5" fill="#51682a" stroke="#33471a" stroke-width="1.6"/>
<rect x="250.9" y="1930.3" width="19.8" height="237.5" fill="#ca5050" stroke="#bf3a44" stroke-width="1.2"/>
<rect x="269.1" y="1898.6" width="3.6" height="269.7" fill="#fff"/>
<rect x="273.3" y="1903.4" width="16" height="264.4" fill="#51682a" stroke="#33471a" stroke-width="1.6"/>
<rect x="310.6" y="2008.4" width="19.3" height="159.4" fill="#ca5050" stroke="#bf3a44" stroke-width="1.2"/>
<rect x="331.4" y="1982" width="3.6" height="186.3" fill="#fff"/>
<rect x="335.6" y="1986.8" width="13" height="181" fill="#51682a" stroke="#33471a" stroke-width="1.6"/>
<rect x="372.9" y="2076.3" width="19.3" height="91.5" fill="#ca5050" stroke="#bf3a44" stroke-width="1.2"/>
<rect x="390.4" y="2049.8" width="3.6" height="118.5" fill="#fff"/>
<rect x="394.6" y="2054.6" width="16" height="113.2" fill="#51682a" stroke="#33471a" stroke-width="1.6"/>
<rect x="432.1" y="2029.8" width="19.3" height="138" fill="#ca5050" stroke="#bf3a44" stroke-width="1.2"/>
<rect x="452.6" y="2071.2" width="3.6" height="97.1" fill="#fff"/>
<rect x="456.8" y="2076" width="13.3" height="91.8" fill="#51682a" stroke="#33471a" stroke-width="1.6"/>
<rect x="494.3" y="1946" width="19.4" height="221.8" fill="#ca5050" stroke="#bf3a44" stroke-width="1.2"/>
<rect x="511.9" y="1949.7" width="3.6" height="218.6" fill="#fff"/>
<rect x="516.1" y="1954.5" width="16.2" height="213.3" fill="#51682a" stroke="#33471a" stroke-width="1.6"/>
<rect x="553.4" y="2115.9" width="19.3" height="51.9" fill="#ca5050" stroke="#bf3a44" stroke-width="1.2"/>
<rect x="574" y="2100.6" width="3.6" height="67.7" fill="#fff"/>
<rect x="578.2" y="2105.4" width="16.2" height="62.4" fill="#51682a" stroke="#33471a" stroke-width="1.6"/>
<rect x="615" y="2102.4" width="19.8" height="65.4" fill="#ca5050" stroke="#bf3a44" stroke-width="1.2"/>
<rect x="633.3" y="2138.5" width="3.6" height="29.8" fill="#fff"/>
<rect x="637.5" y="2143.3" width="16.1" height="24.5" fill="#51682a" stroke="#33471a" stroke-width="1.6"/>
<rect x="677.5" y="2086.4" width="16.3" height="81.4" fill="#ca5050" stroke="#bf3a44" stroke-width="1.2"/>
<rect x="695.3" y="2138.5" width="3.6" height="29.8" fill="#fff"/>
<rect x="699.5" y="2143.3" width="16.2" height="24.5" fill="#51682a" stroke="#33471a" stroke-width="1.6"/>
<rect x="737" y="2075.7" width="19.5" height="92.1" fill="#ca5050" stroke="#bf3a44" stroke-width="1.2"/>
<rect x="754.8" y="2127.3" width="3.6" height="41" fill="#fff"/>
<rect x="759" y="2132.1" width="16.2" height="35.7" fill="#51682a" stroke="#33471a" stroke-width="1.6"/>
<rect x="799" y="2102.4" width="16.8" height="65.4" fill="#ca5050" stroke="#bf3a44" stroke-width="1.2"/>
<rect x="816.9" y="2127.3" width="3.6" height="41" fill="#fff"/>
<rect x="821.1" y="2132.1" width="16.1" height="35.7" fill="#51682a" stroke="#33471a" stroke-width="1.6"/>
<path d="M179 2169.3V1664Q179 1662.5 180.5 1662.5H846.1Q847.6 1662.5 847.6 1664V2169.3" fill="none" stroke="#000" stroke-width="2.8"/>
<text x="138.6" y="1673.9" text-anchor="end" class="tk">90</text>
<text x="138.6" y="1731" text-anchor="end" class="tk">80</text>
<text x="138.6" y="1787.5" text-anchor="end" class="tk">70</text>
<text x="138.6" y="1843.8" text-anchor="end" class="tk">60</text>
<text x="138.6" y="1900.9" text-anchor="end" class="tk">50</text>
<text x="138.6" y="1957.3" text-anchor="end" class="tk">40</text>
<text x="138.6" y="2011.4" text-anchor="end" class="tk">30</text>
<text x="138.6" y="2068" text-anchor="end" class="tk">20</text>
<text x="138.6" y="2124.6" text-anchor="end" class="tk">10</text>
<text x="138.6" y="2181.8" text-anchor="end" class="tk">0</text>
<text x="210.2" y="2238.6" text-anchor="middle" class="tk">0</text>
<text x="271" y="2238.6" text-anchor="middle" class="tk">1</text>
<text x="331.8" y="2238.6" text-anchor="middle" class="tk">2</text>
<text x="392.6" y="2238.6" text-anchor="middle" class="tk">3</text>
<text x="453.4" y="2238.6" text-anchor="middle" class="tk">4</text>
<text x="514.2" y="2238.6" text-anchor="middle" class="tk">5</text>
<text x="575" y="2238.6" text-anchor="middle" class="tk">6</text>
<text x="635.8" y="2238.6" text-anchor="middle" class="tk">7</text>
<text x="696.6" y="2238.6" text-anchor="middle" class="tk">8</text>
<text x="757.4" y="2238.6" text-anchor="middle" class="tk">9</text>
<text x="818.2" y="2238.6" text-anchor="middle" class="tk">10</text>
</g>
<g>
<line x1="1032.2" x2="1688.7" y1="1719.6" y2="1719.6" stroke="#ebebeb" stroke-width="1.9"/>
<line x1="1032.2" x2="1688.7" y1="1776.1" y2="1776.1" stroke="#ebebeb" stroke-width="1.9"/>
<line x1="1032.2" x2="1688.7" y1="1832.4" y2="1832.4" stroke="#ebebeb" stroke-width="1.9"/>
<line x1="1032.2" x2="1688.7" y1="1889.5" y2="1889.5" stroke="#ebebeb" stroke-width="1.9"/>
<line x1="1032.2" x2="1688.7" y1="1945.9" y2="1945.9" stroke="#ebebeb" stroke-width="1.9"/>
<line x1="1032.2" x2="1688.7" y1="2000" y2="2000" stroke="#ebebeb" stroke-width="1.9"/>
<line x1="1032.2" x2="1688.7" y1="2056.6" y2="2056.6" stroke="#ebebeb" stroke-width="1.9"/>
<line x1="1032.2" x2="1688.7" y1="2113.2" y2="2113.2" stroke="#ebebeb" stroke-width="1.9"/>
<line x1="1027.2" x2="1693.2" y1="2169" y2="2169" stroke="#d4d4d8" stroke-width="1.6"/>
<rect x="1029.9" y="1968.9" width="29.8" height="197.9" fill="#fff"/>
<rect x="1051.3" y="1898.7" width="30.2" height="268.1" fill="#fff"/>
<rect x="1091.8" y="1931.1" width="30" height="235.7" fill="#fff"/>
<rect x="1113.4" y="1898.7" width="30.1" height="268.1" fill="#fff"/>
<rect x="1151.2" y="1993.5" width="29.8" height="173.3" fill="#fff"/>
<rect x="1173.3" y="1960.8" width="29.7" height="206" fill="#fff"/>
<rect x="1213.3" y="2003.8" width="32.5" height="163" fill="#fff"/>
<rect x="1235.3" y="1998.5" width="29.8" height="168.3" fill="#fff"/>
<rect x="1272.8" y="2031" width="32.3" height="135.8" fill="#fff"/>
<rect x="1297" y="2028.4" width="27.4" height="138.4" fill="#fff"/>
<rect x="1334.8" y="1853" width="32.5" height="313.8" fill="#fff"/>
<rect x="1356.3" y="1893.4" width="29.8" height="273.4" fill="#fff"/>
<rect x="1394.2" y="2103.7" width="32.6" height="63.1" fill="#fff"/>
<rect x="1418.8" y="2079.1" width="27" height="87.7" fill="#fff"/>
<rect x="1455.8" y="2066.3" width="33" height="100.5" fill="#fff"/>
<rect x="1477.7" y="2152.3" width="30.2" height="14.5" fill="#fff"/>
<rect x="1515.3" y="2111.6" width="32.8" height="55.2" fill="#fff"/>
<rect x="1540.4" y="2122.3" width="29.5" height="44.5" fill="#fff"/>
<rect x="1577.8" y="2098.4" width="32.8" height="68.4" fill="#fff"/>
<rect x="1639.9" y="2117.2" width="29.7" height="49.6" fill="#fff"/>
<rect x="1036.5" y="1973.5" width="16.6" height="194.3" fill="#ca5050" stroke="#bf3a44" stroke-width="1.2"/>
<rect x="1053.9" y="1898.7" width="3.6" height="269.6" fill="#fff"/>
<rect x="1058.1" y="1903.5" width="16.6" height="264.3" fill="#51682a" stroke="#33471a" stroke-width="1.6"/>
<rect x="1098.4" y="1935.7" width="16.8" height="232.1" fill="#ca5050" stroke="#bf3a44" stroke-width="1.2"/>
<rect x="1116" y="1898.7" width="3.6" height="269.6" fill="#fff"/>
<rect x="1120.2" y="1903.5" width="16.5" height="264.3" fill="#51682a" stroke="#33471a" stroke-width="1.6"/>
<rect x="1157.8" y="1998.1" width="16.6" height="169.7" fill="#ca5050" stroke="#bf3a44" stroke-width="1.2"/>
<rect x="1175.9" y="1960.8" width="3.6" height="207.5" fill="#fff"/>
<rect x="1180.1" y="1965.6" width="16.1" height="202.2" fill="#51682a" stroke="#33471a" stroke-width="1.6"/>
<rect x="1219.9" y="2008.4" width="19.3" height="159.4" fill="#ca5050" stroke="#bf3a44" stroke-width="1.2"/>
<rect x="1237.9" y="1998.5" width="3.6" height="169.8" fill="#fff"/>
<rect x="1242.1" y="2003.3" width="16.2" height="164.5" fill="#51682a" stroke="#33471a" stroke-width="1.6"/>
<rect x="1279.4" y="2035.6" width="19.1" height="132.2" fill="#ca5050" stroke="#bf3a44" stroke-width="1.2"/>
<rect x="1299.6" y="2028.4" width="3.6" height="139.9" fill="#fff"/>
<rect x="1303.8" y="2033.2" width="13.8" height="134.6" fill="#51682a" stroke="#33471a" stroke-width="1.6"/>
<rect x="1341.4" y="1857.6" width="19.3" height="310.2" fill="#ca5050" stroke="#bf3a44" stroke-width="1.2"/>
<rect x="1358.9" y="1893.4" width="3.6" height="274.9" fill="#fff"/>
<rect x="1363.1" y="1898.2" width="16.2" height="269.6" fill="#51682a" stroke="#33471a" stroke-width="1.6"/>
<rect x="1400.8" y="2108.3" width="19.4" height="59.5" fill="#ca5050" stroke="#bf3a44" stroke-width="1.2"/>
<rect x="1421.4" y="2079.1" width="3.6" height="89.2" fill="#fff"/>
<rect x="1425.6" y="2083.9" width="13.4" height="83.9" fill="#51682a" stroke="#33471a" stroke-width="1.6"/>
<rect x="1462.4" y="2070.9" width="19.8" height="96.9" fill="#ca5050" stroke="#bf3a44" stroke-width="1.2"/>
<rect x="1480.3" y="2152.3" width="3.6" height="16" fill="#fff"/>
<rect x="1484.5" y="2157.1" width="16.6" height="10.7" fill="#51682a" stroke="#33471a" stroke-width="1.6"/>
<rect x="1521.9" y="2116.2" width="19.6" height="51.6" fill="#ca5050" stroke="#bf3a44" stroke-width="1.2"/>
<rect x="1543" y="2122.3" width="3.6" height="46" fill="#fff"/>
<rect x="1547.2" y="2127.1" width="15.9" height="40.7" fill="#51682a" stroke="#33471a" stroke-width="1.6"/>
<rect x="1584.4" y="2103" width="19.6" height="64.8" fill="#ca5050" stroke="#bf3a44" stroke-width="1.2"/>
<rect x="1601.8" y="2162.6" width="3.6" height="5.7" fill="#fff"/>
<rect x="1606" y="2167.4" width="16.6" height="0.4" fill="#51682a" stroke="#33471a" stroke-width="1.6"/>
<rect x="1646.5" y="2121.8" width="16.5" height="46" fill="#ca5050" stroke="#bf3a44" stroke-width="1.2"/>
<rect x="1664.3" y="2162.6" width="3.6" height="5.7" fill="#fff"/>
<rect x="1668.5" y="2167.4" width="16.1" height="0.4" fill="#51682a" stroke="#33471a" stroke-width="1.6"/>
<path d="M1026.2 2169.3V1664Q1026.2 1662.5 1027.7 1662.5H1693.3Q1694.8 1662.5 1694.8 1664V2169.3" fill="none" stroke="#000" stroke-width="2.8"/>
<text x="985.8" y="1673.9" text-anchor="end" class="tk">90</text>
<text x="985.8" y="1731" text-anchor="end" class="tk">80</text>
<text x="985.8" y="1787.5" text-anchor="end" class="tk">70</text>
<text x="985.8" y="1843.8" text-anchor="end" class="tk">60</text>
<text x="985.8" y="1900.9" text-anchor="end" class="tk">50</text>
<text x="985.8" y="1957.3" text-anchor="end" class="tk">40</text>
<text x="985.8" y="2011.4" text-anchor="end" class="tk">30</text>
<text x="985.8" y="2068" text-anchor="end" class="tk">20</text>
<text x="985.8" y="2124.6" text-anchor="end" class="tk">10</text>
<text x="985.8" y="2181.8" text-anchor="end" class="tk">0</text>
<text x="1057.4" y="2238.6" text-anchor="middle" class="tk">0</text>
<text x="1118.2" y="2238.6" text-anchor="middle" class="tk">1</text>
<text x="1179" y="2238.6" text-anchor="middle" class="tk">2</text>
<text x="1239.8" y="2238.6" text-anchor="middle" class="tk">3</text>
<text x="1300.6" y="2238.6" text-anchor="middle" class="tk">4</text>
<text x="1361.4" y="2238.6" text-anchor="middle" class="tk">5</text>
<text x="1422.2" y="2238.6" text-anchor="middle" class="tk">6</text>
<text x="1483" y="2238.6" text-anchor="middle" class="tk">7</text>
<text x="1543.8" y="2238.6" text-anchor="middle" class="tk">8</text>
<text x="1604.6" y="2238.6" text-anchor="middle" class="tk">9</text>
<text x="1665.4" y="2238.6" text-anchor="middle" class="tk">10</text>
</g>
<text y="48.5" class="tt" xml:space="preserve"><tspan id="t0" x="320.6" textLength="149.4" lengthAdjust="spacingAndGlyphs">Food </tspan><tspan id="t1" x="469.3" textLength="166.1" lengthAdjust="spacingAndGlyphs">intake</tspan></text>
<text y="46.6" class="tt" xml:space="preserve"><tspan id="t2" x="1256.9" textLength="138.9" lengthAdjust="spacingAndGlyphs">Taste</tspan></text>
<text y="822.9" class="tt" xml:space="preserve"><tspan id="t3" x="184.8" textLength="341.5" lengthAdjust="spacingAndGlyphs">Assumption </tspan><tspan id="t4" x="518" textLength="255.5" lengthAdjust="spacingAndGlyphs">simplicity</tspan></text>
<text y="822.9" class="tt" xml:space="preserve"><tspan id="t5" x="1104.1" textLength="255.4" lengthAdjust="spacingAndGlyphs">Personal </tspan><tspan id="t6" x="1351" textLength="193.4" lengthAdjust="spacingAndGlyphs">activity</tspan></text>
<text y="1594.2" class="tt" xml:space="preserve"><tspan id="t7" x="304.6" textLength="157.9" lengthAdjust="spacingAndGlyphs">Work </tspan><tspan id="t8" x="461" textLength="191.6" lengthAdjust="spacingAndGlyphs">activity</tspan></text>
<text y="1594.2" class="tt" xml:space="preserve"><tspan id="t9" x="1064" textLength="228.7" lengthAdjust="spacingAndGlyphs">General </tspan><tspan id="t10" x="1292.2" textLength="295.6" lengthAdjust="spacingAndGlyphs">perception</tspan></text>
<text transform="translate(52.9 563) rotate(-90)" class="yl" xml:space="preserve"><tspan id="y0_0" x="-4" textLength="96.2" lengthAdjust="spacingAndGlyphs">No. </tspan><tspan id="y0_1" x="91.2" textLength="62" lengthAdjust="spacingAndGlyphs">of </tspan><tspan id="y0_2" x="149.8" textLength="213.4" lengthAdjust="spacingAndGlyphs">responder</tspan><tspan id="y0_3" x="371.2" textLength="18.2" lengthAdjust="spacingAndGlyphs">s</tspan></text>
<text transform="translate(43.2 1328) rotate(-90)" class="yl" xml:space="preserve"><tspan id="y1_0" x="-4" textLength="96.2" lengthAdjust="spacingAndGlyphs">No. </tspan><tspan id="y1_1" x="91.2" textLength="62" lengthAdjust="spacingAndGlyphs">of </tspan><tspan id="y1_2" x="149.8" textLength="213.4" lengthAdjust="spacingAndGlyphs">responder</tspan><tspan id="y1_3" x="371.2" textLength="18.2" lengthAdjust="spacingAndGlyphs">s</tspan></text>
<text transform="translate(65.8 2106.8) rotate(-90)" class="yl" xml:space="preserve"><tspan id="y2_0" x="-4.4" textLength="97.3" lengthAdjust="spacingAndGlyphs">No. </tspan><tspan id="y2_1" x="90.8" textLength="62.3" lengthAdjust="spacingAndGlyphs">of </tspan><tspan id="y2_2" x="150.4" textLength="212.4" lengthAdjust="spacingAndGlyphs">responder</tspan><tspan id="y2_3" x="370.8" textLength="18.2" lengthAdjust="spacingAndGlyphs">s</tspan></text>
<text id="s0" x="413.4" y="2338.2" textLength="127.9" lengthAdjust="spacingAndGlyphs" class="sc">Score</text>
<text id="s1" x="1260.2" y="2338.2" textLength="129.5" lengthAdjust="spacingAndGlyphs" class="sc">Score</text>
<rect x="486.4" y="2458.8" width="181.6" height="16.6" fill="#ca5050" stroke="#bf3a44" stroke-width="1"/>
<rect x="985" y="2458.8" width="182.4" height="16.6" fill="#51682a" stroke="#33471a" stroke-width="1"/>
<text id="l0" x="695" y="2484.4" textLength="194.8" lengthAdjust="spacingAndGlyphs" class="sc">PEG-ASC</text>
<text id="l1" x="1193.9" y="2484.4" textLength="135.9" lengthAdjust="spacingAndGlyphs" class="sc">SPMC</text>
</g>
</svg>
</body></html>
